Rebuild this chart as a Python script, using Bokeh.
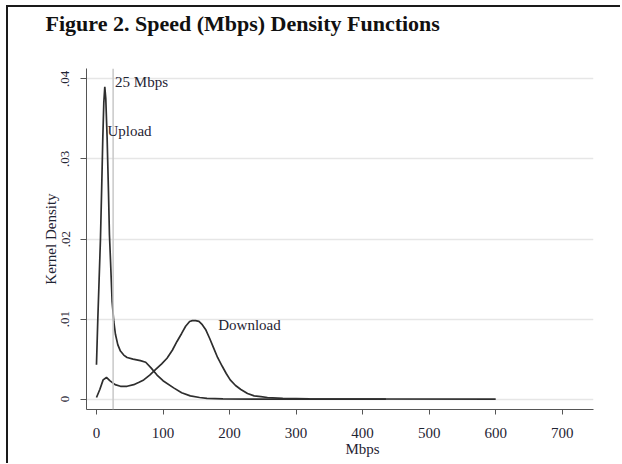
from bokeh.plotting import figure
from bokeh.models import FixedTicker, CustomJSTickFormatter, Span, Label, Title, InlineStyleSheet
from bokeh.embed import file_html
from bokeh.resources import INLINE

# ---- data ----
upload_x = [0, 2, 4, 6, 8, 9.5, 11, 12.5, 14, 16, 18, 19.5, 21, 23.5, 26, 28.5, 32, 36, 41, 46,
            55, 66, 74, 82, 91, 100, 116, 128, 141, 155, 166, 190, 250, 435]
upload_y = [0.0043, 0.0100, 0.0150, 0.0200, 0.0270, 0.0326, 0.0370, 0.0390, 0.0375, 0.0326,
            0.0260, 0.0205, 0.0175, 0.0122, 0.0097, 0.0081, 0.0068, 0.0060, 0.0055, 0.0052,
            0.0050, 0.0048, 0.0046, 0.0039, 0.0030, 0.0023, 0.0014, 0.0008, 0.0004, 0.0002,
            0.0001, 0.00003, 0.0, 0.0]

download_x = [0, 5, 10, 15, 20, 28, 36, 46, 56, 64, 71, 80, 89, 98, 106, 114, 121, 128, 134, 140,
              144, 149, 154, 159, 164, 170, 176, 182, 189, 195, 201, 209, 217, 227, 237, 247, 257,
              280, 320, 400, 600]
download_y = [0.0002, 0.0012, 0.0024, 0.0027, 0.0023, 0.0018, 0.0016, 0.0016, 0.0018, 0.0021,
              0.0024, 0.0030, 0.0037, 0.0044, 0.0051, 0.0061, 0.0072, 0.0082, 0.0091, 0.0097,
              0.0098, 0.0098, 0.0097, 0.0093, 0.0087, 0.0076, 0.0064, 0.0052, 0.0041, 0.0032,
              0.0024, 0.0017, 0.0012, 0.0007, 0.0004, 0.0003, 0.0002, 0.0001, 0.00003, 0.00001, 0.0]

x_ticks = [0, 100, 200, 300, 400, 500, 600, 700]
y_ticks = [0, 0.01, 0.02, 0.03, 0.04]
threshold = 25
title_text = "Figure 2.  Speed (Mbps) Density Functions"
x_title = "Mbps"
y_title = "Kernel Density"

SERIF = "Liberation Serif"
TXT = "#1f2433"
LINE = "#2e2e2e"
AXIS = "#555555"

p = figure(frame_width=507, frame_height=341,
           min_border_left=78, min_border_right=27, min_border_top=0, min_border_bottom=54,
           x_range=(-15, 747), y_range=(-0.0013, 0.0413),
           output_backend="svg", toolbar_location=None,
           background_fill_color="white", border_fill_color="white")
p.outline_line_color = None
p.stylesheets = [InlineStyleSheet(css=":host { margin-left: 6px; margin-top: 5px; border-left: 2px solid #1a1a1a; border-top: 2px solid #1a1a1a; }")]

xa = p.xaxis[0]
ya = p.yaxis[0]

# x axis
xa.ticker = FixedTicker(ticks=x_ticks)
xa.axis_line_color = AXIS
xa.axis_line_width = 1
xa.major_tick_line_color = AXIS
xa.major_tick_line_width = 1
xa.major_tick_out = 5
xa.major_tick_in = 0
xa.minor_tick_line_color = None
xa.major_label_text_font = SERIF
xa.major_label_text_font_size = "15px"
xa.major_label_text_color = TXT
xa.major_label_standoff = 13

# y axis
ya.ticker = FixedTicker(ticks=y_ticks)
ya.formatter = CustomJSTickFormatter(code="return tick == 0 ? '0' : tick.toFixed(2).replace(/^0/, '');")
ya.major_label_orientation = "vertical"
ya.axis_line_color = AXIS
ya.axis_line_width = 1
ya.major_tick_line_color = AXIS
ya.major_tick_line_width = 1
ya.major_tick_out = 6
ya.major_tick_in = 0
ya.minor_tick_line_color = None
ya.major_label_text_font = SERIF
ya.major_label_text_font_size = "13px"
ya.major_label_text_color = TXT
ya.major_label_standoff = 11
ya.axis_label = y_title
ya.axis_label_text_font = SERIF
ya.axis_label_text_font_style = "normal"
ya.axis_label_text_font_size = "15px"
ya.axis_label_text_color = TXT
ya.axis_label_standoff = 0

# blank gap between the title and the plot area
p.add_layout(Title(text=" ", text_font_size="1px", text_color="white", standoff=28), "above")

# title
p.title.text = title_text
p.title.text_font = SERIF
p.title.text_font_style = "bold"
p.title.text_font_size = "22px"
p.title.text_color = "#111111"
p.title.align = "left"
p.title.offset = -41
p.title.standoff = 3

# grids
p.xgrid.visible = False
p.ygrid.ticker = FixedTicker(ticks=y_ticks)
p.ygrid.grid_line_color = "#e6e6e6"
p.ygrid.grid_line_width = 1.3

# x axis title (placed over 400 like the reference)
p.add_layout(Title(text=x_title, align="left", offset=259, standoff=-4, text_font=SERIF,
                   text_font_style="normal", text_font_size="15px", text_color=TXT), "below")

# 25 Mbps reference line
p.add_layout(Span(location=threshold, dimension="height", line_color="#c8c8c8", line_width=1.5))

# curves
p.line(upload_x, upload_y, line_color=LINE, line_width=1.7)
p.line(download_x, download_y, line_color=LINE, line_width=1.7)

# annotations
p.add_layout(Label(x=threshold, y=0.0396, x_offset=2, text="25 Mbps", text_font=SERIF,
                   text_font_size="15px", text_color=TXT, text_baseline="alphabetic"))
p.add_layout(Label(x=16.5, y=0.0335, text="Upload", text_font=SERIF,
                   text_font_size="15px", text_color=TXT, text_baseline="alphabetic"))
p.add_layout(Label(x=183, y=0.0093, text="Download", text_font=SERIF,
                   text_font_size="15px", text_color=TXT, text_baseline="alphabetic"))

open("out.html", "w").write(file_html(p, INLINE))
